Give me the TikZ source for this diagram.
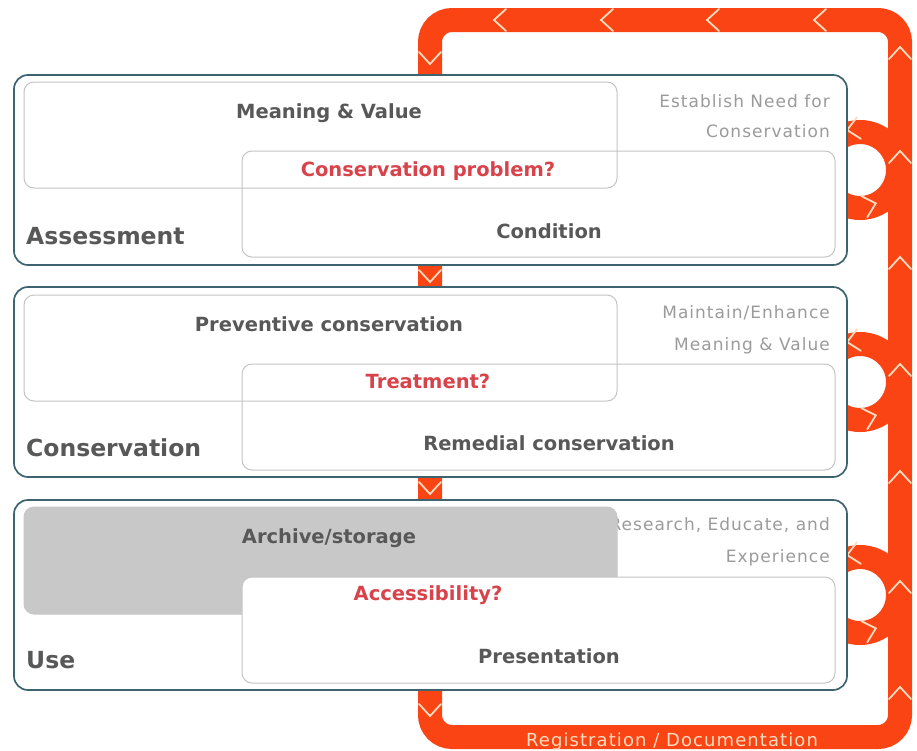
\documentclass[tikz,border=0pt]{standalone}
\usepackage{fontspec}
\setmainfont{DejaVu Sans}
\newfontfamily\lsfont[LetterSpace=6]{DejaVu Sans}
\definecolor{orng}{RGB}{250,68,20}
\definecolor{chevc}{RGB}{255,220,190}
\definecolor{panelb}{RGB}{62,99,112}
\definecolor{boxb}{RGB}{196,196,196}
\definecolor{txtg}{RGB}{88,88,88}
\definecolor{txtr}{RGB}{216,67,75}
\definecolor{txtl}{RGB}{155,155,155}
\definecolor{grayfill}{RGB}{200,200,200}
\newcommand\chevr[3]{\draw[chevline,shift={(#1,#2)},rotate=#3] (-6pt,11pt) -- (6pt,0pt) -- (-6pt,-11pt);}
\begin{document}
\begin{tikzpicture}[x=1pt,y=-1pt,
  orangebar/.style={draw=orng, line width=24pt},
  chevline/.style={draw=chevc, line width=1.8pt, line cap=round, line join=miter},
  panel/.style={draw=panelb, line width=1.7pt, fill=white, rounded corners=14pt},
  boxline/.style={draw=boxb, line width=1pt, rounded corners=10pt},
  inner/.style={font=\bfseries\fontsize{19.5}{21}\selectfont, text=txtg, text height=14pt, text depth=0pt, inner sep=0pt},
  question/.style={inner, text=txtr},
  stage/.style={anchor=west, font=\bfseries\fontsize{23.5}{25}\selectfont, text=txtg, text height=17pt, text depth=0pt, inner sep=0pt},
  graytxt/.style={anchor=east, font=\lsfont\fontsize{17}{19}\selectfont, text=txtl, text height=12.4pt, text depth=0pt, inner sep=0pt}
]
\useasboundingbox (0,0) rectangle (917,750);
% documentation loop
\draw[orangebar, rounded corners=22pt] (430,20) rectangle (900,737);
\foreach \cy in {170,382,595}{
  \draw[orangebar] (860,\cy) circle[radius=38pt];
  \chevr{853}{\cy-41}{190}
  \chevr{870}{\cy+35}{16}
}
\foreach \xx in {500,607,713,820}{\chevr{\xx}{20}{180}}
\foreach \yy in {53,157,263,370,477,587,693}{\chevr{900}{\yy}{90}}
\foreach \yy in {58,276,488,710}{\chevr{430}{\yy}{-90}}
\node[font=\lsfont\fontsize{18}{20}\selectfont, text=chevc, text height=13pt, text depth=0pt, inner sep=0pt] (reg) at (672,740) {Registration / Documentation};

% Panel 1
\draw[panel] (14,75) rectangle (847,265);
\node[graytxt] (g1a) at (830,101) {Establish Need for};
\node[graytxt] (g1b) at (830,131) {Conservation};
\draw[boxline] (24,82) rectangle (617,188);
\draw[boxline] (242,151) rectangle (835,257);
\node[inner] (m1) at (329,111) {Meaning \& Value};
\node[question] (q1) at (428,169) {Conservation problem?};
\node[inner] (c1) at (549,231) {Condition};
\node[stage] (s1) at (26,236) {Assessment};

% Panel 2
\draw[panel] (14,287) rectangle (847,477);
\node[graytxt] (g2a) at (830,312) {Maintain/Enhance};
\node[graytxt] (g2b) at (830,344) {Meaning \& Value};
\draw[boxline] (24,295) rectangle (617,401);
\draw[boxline] (242,364) rectangle (835,470);
\node[inner] (m2) at (329,324) {Preventive conservation};
\node[question] (q2) at (428,381) {Treatment?};
\node[inner] (c2) at (549,443) {Remedial conservation};
\node[stage] (s2) at (26,448) {Conservation};

% Panel 3
\draw[panel] (14,500) rectangle (847,690);
\node[graytxt] (g3a) at (830,524) {Research, Educate, and};
\node[graytxt] (g3b) at (830,556) {Experience};
\draw[boxline, draw=grayfill, fill=grayfill] (24,507) rectangle (617,614);
\draw[boxline, fill=white] (242,577) rectangle (835,683);
\node[inner] (m3) at (329,536) {Archive/storage};
\node[question] (q3) at (428,593) {Accessibility?};
\node[inner] (c3) at (549,656) {Presentation};
\node[stage] (s3) at (26,660) {Use};
\end{tikzpicture}
\end{document}
